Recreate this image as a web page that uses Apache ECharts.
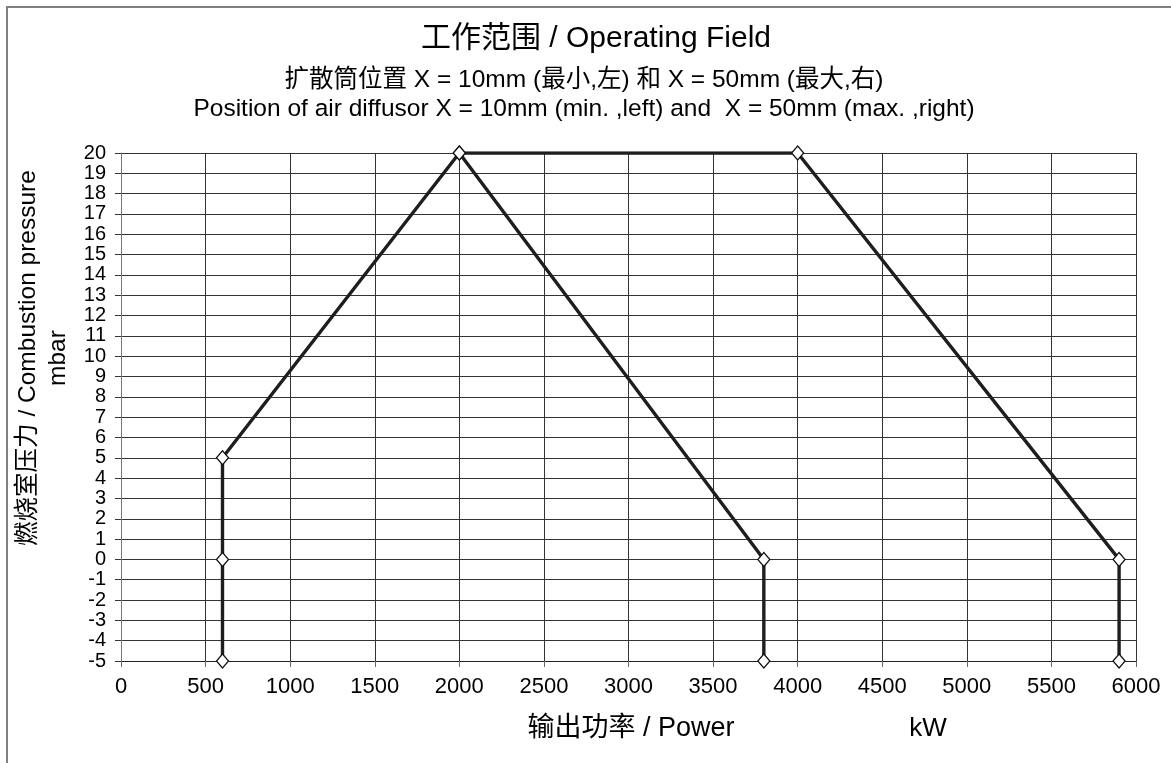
<!DOCTYPE html>
<html>
<head>
<meta charset="utf-8">
<script src="https://cdn.jsdelivr.net/npm/echarts@6/dist/echarts.min.js"></script>
<style>
  html, body { margin: 0; padding: 0; background: #fff; }
  #chart { width: 1171px; height: 763px; }
</style>
</head>
<body>
<div id="chart"></div>
<script>
// Operating field of the burner: power (kW) vs combustion chamber pressure (mbar)
const powerMin = [600, 600, 600, 2000, 3800, 3800];     // X = 10mm envelope, kW
const pressureMin = [-5, 0, 5, 20, 0, -5];               // mbar
const powerMax = [2000, 4000, 5900, 5900];               // X = 50mm envelope, kW
const pressureMax = [20, 20, 0, -5];                     // mbar

const xTicks = { min: 0, max: 6000, step: 500 };
const yTicks = { min: -5, max: 20, step: 1 };

const titleText = '工作范围 / Operating Field';
const subLine1 = '扩散筒位置 X = 10mm (最小,左) 和 X = 50mm (最大,右)';
const subLine2 = 'Position of air diffusor X = 10mm (min. ,left) and  X = 50mm (max. ,right)';
const yName1 = '燃烧室压力 / Combustion pressure';
const yName2 = 'mbar';
const xName = '输出功率 / Power';
const xUnit = 'kW';

const FONT = '"Liberation Sans", Arial, "Noto Sans CJK SC", sans-serif';
const lineColor = '#1e1e1e';

function pairs(xs, ys) { return xs.map((x, i) => [x, ys[i]]); }

const chart = echarts.init(document.getElementById('chart'));

const seriesStyle = {
  type: 'line',
  symbol: 'diamond',
  symbolSize: [12, 14],
  lineStyle: { color: lineColor, width: 3.4 },
  itemStyle: { color: '#fff', borderColor: '#111', borderWidth: 1.3 },
  z: 5,
  animation: false
};

chart.setOption({
  backgroundColor: '#fff',
  animation: false,
  grid: { left: 121, top: 153, right: 35, bottom: 102, containLabel: false },
  xAxis: {
    type: 'value',
    min: xTicks.min, max: xTicks.max, interval: xTicks.step,
    axisLine: { show: true, onZero: false, lineStyle: { color: '#222', width: 1 } },
    axisTick: { show: true, inside: false, length: 6, lineStyle: { color: '#666' } },
    axisLabel: {
      color: '#000', fontSize: 22, fontFamily: FONT, margin: 15,
      showMinLabel: true, showMaxLabel: true, hideOverlap: false,
      formatter: v => String(v)
    },
    splitLine: { show: true, lineStyle: { color: '#333', width: 1 } }
  },
  yAxis: {
    type: 'value',
    min: yTicks.min, max: yTicks.max, interval: yTicks.step,
    axisLine: { show: true, lineStyle: { color: '#777', width: 1 } },
    axisTick: { show: true, inside: false, length: 6, lineStyle: { color: '#333' } },
    axisLabel: {
      color: '#000', fontSize: 20, fontFamily: FONT, margin: 15, lineHeight: 18,
      showMinLabel: true, showMaxLabel: true, hideOverlap: false,
      formatter: v => String(v)
    },
    splitLine: { show: true, lineStyle: { color: '#333', width: 1 } }
  },
  series: [
    Object.assign({ name: 'X = 10mm', data: pairs(powerMin, pressureMin) }, seriesStyle),
    Object.assign({ name: 'X = 50mm', data: pairs(powerMax, pressureMax) }, seriesStyle)
  ],
  graphic: [
    { type: 'rect', shape: { x: 7, y: 7, width: 1200, height: 800 },
      style: { fill: 'none', stroke: '#808080', lineWidth: 2 }, z: 0 },
    { type: 'text', x: 596, y: 39,
      style: { text: titleText, font: '30px ' + FONT, fill: '#000', textAlign: 'center', textVerticalAlign: 'middle' } },
    { type: 'text', x: 584, y: 80,
      style: { text: subLine1, font: '24.5px ' + FONT, fill: '#000', textAlign: 'center', textVerticalAlign: 'middle' } },
    { type: 'text', x: 584, y: 109,
      style: { text: subLine2, font: '24.5px ' + FONT, fill: '#000', textAlign: 'center', textVerticalAlign: 'middle' } },
    { type: 'text', x: 28, y: 358, rotation: Math.PI / 2,
      style: { text: yName1, font: '24.5px ' + FONT, fill: '#000', textAlign: 'center', textVerticalAlign: 'middle' } },
    { type: 'text', x: 58, y: 358, rotation: Math.PI / 2,
      style: { text: yName2, font: '24.5px ' + FONT, fill: '#000', textAlign: 'center', textVerticalAlign: 'middle' } },
    { type: 'text', x: 631, y: 729,
      style: { text: xName, font: '27px ' + FONT, fill: '#000', textAlign: 'center', textVerticalAlign: 'middle' } },
    { type: 'text', x: 928, y: 729,
      style: { text: xUnit, font: '26px ' + FONT, fill: '#000', textAlign: 'center', textVerticalAlign: 'middle' } }
  ]
});
</script>
</body>
</html>
